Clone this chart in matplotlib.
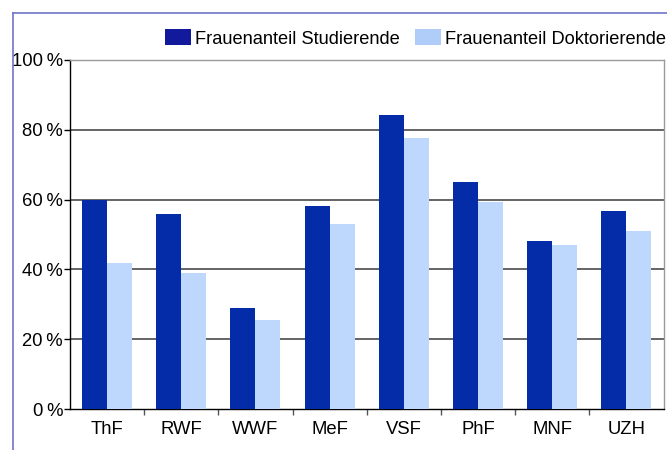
import matplotlib
matplotlib.use("Agg")
import matplotlib.pyplot as plt
import numpy as np
from matplotlib.patches import Patch
from matplotlib.lines import Line2D

plt.rcParams['font.family'] = ['Liberation Sans', 'DejaVu Sans']

categories = ["ThF", "RWF", "WWF", "MeF", "VSF", "PhF", "MNF", "UZH"]
studierende = [59.9, 56.0, 28.9, 58.3, 84.3, 64.9, 48.0, 56.6]
doktorierende = [41.7, 38.9, 25.4, 52.9, 77.7, 59.4, 47.1, 50.9]
series_names = ["Frauenanteil Studierende", "Frauenanteil Doktorierende"]
yticks = [0, 20, 40, 60, 80, 100]
ytick_labels = ["0\u2009%", "20\u2009%", "40\u2009%", "60\u2009%", "80\u2009%", "100\u2009%"]

dark = "#052ca8"
light = "#bdd8fc"
legend_dark = "#12199a"
legend_light = "#b0ccf8"

fig = plt.figure(figsize=(6.67, 4.5), dpi=100)
ax = fig.add_axes([70/667, 1-409/450, (663.5-70)/667, (409-60)/450])

x = np.arange(len(categories))
w = 0.337
ax.bar(x - w/2, studierende, width=w, color=dark, zorder=3)
ax.bar(x + w/2, doktorierende, width=w, color=light, zorder=3)

ax.set_xlim(-0.5, len(categories) - 0.5)
ax.set_ylim(0, 100)

for yv in [20, 40, 60, 80]:
    ax.axhline(yv, color="#3a3a3a", lw=1.1, zorder=1)

ax.spines['top'].set_color("#9a9a9a")
ax.spines['right'].set_color("#9a9a9a")
ax.spines['left'].set_color("black")
ax.spines['bottom'].set_color("black")
for s in ax.spines.values():
    s.set_linewidth(1.0)

ax.set_yticks(yticks)
ax.set_yticklabels(ytick_labels, fontsize=13.3)
ax.tick_params(axis='y', direction='out', length=4, width=1, pad=1, colors='black')

ax.set_xticks(x)
ax.set_xticklabels(categories, fontsize=13.3)
ax.set_xticks(np.arange(0.5, len(categories) - 0.5, 1), minor=True)
ax.tick_params(axis='x', which='major', length=0, pad=9)
ax.tick_params(axis='x', which='minor', direction='out', length=4, width=1, color='#555555')

handles = [Patch(facecolor=legend_dark, edgecolor='none'),
           Patch(facecolor=legend_light, edgecolor='none')]
fig.legend(handles, series_names, loc='center right',
           bbox_to_anchor=(666/667, 1-38.5/450), bbox_transform=fig.transFigure,
           ncol=2, frameon=False, fontsize=13.15, borderpad=0, borderaxespad=0,
           handlelength=1.4, handleheight=0.95, handletextpad=0.22,
           columnspacing=0.88)

# figure border (left and top)
fig.add_artist(Line2D([12.5/667, 12.5/667], [0, 1-12.5/450], transform=fig.transFigure,
                      color="#7074c8", lw=1.2))
fig.add_artist(Line2D([12.5/667, 1], [1-12.5/450, 1-12.5/450], transform=fig.transFigure,
                      color="#7074c8", lw=1.2))

fig.savefig("out.png", dpi=100)
